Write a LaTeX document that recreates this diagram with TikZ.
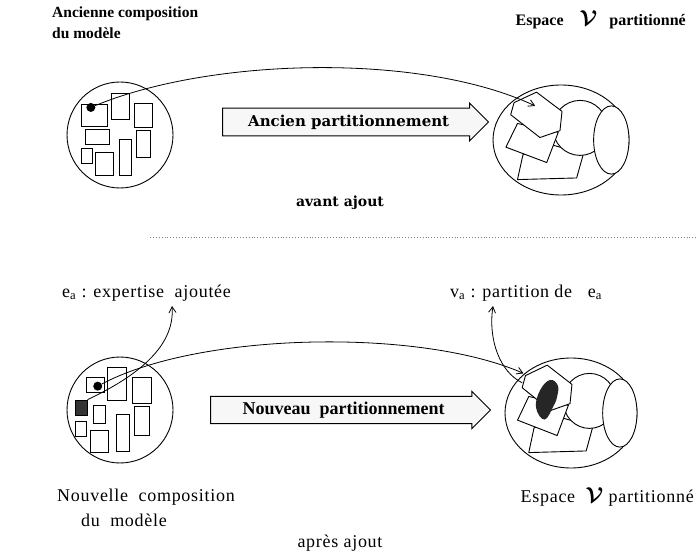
\documentclass[tikz,border=0pt]{standalone}
\usepackage{fontspec}
\setmainfont{Liberation Serif}
\newfontfamily\headfont{DejaVu Serif}
\newfontfamily\widefont{Liberation Serif}[LetterSpace=4]
\usepackage{bm}
\usetikzlibrary{arrows.meta,shapes.arrows}

\newcommand{\bigV}{\scalebox{1.25}{$\bm{\mathcal{V}}$}}

\tikzset{
  outline/.style={line width=0.9pt},
  part/.style={draw, line width=0.9pt, fill=white, line join=round},
  cell/.style={draw, line width=0.8pt},
  bigarrow/.style={single arrow, draw, line width=1pt, fill=gray!6,
    single arrow head extend=5pt, single arrow head indent=0pt,
    inner xsep=6pt, inner ysep=6pt, anchor=west},
  link/.style={line width=0.8pt, -{Straight Barb[length=6pt,width=7pt]}},
  toplab/.style={font=\fontsize{15.5}{21}\selectfont\bfseries},
  heavylab/.style={font=\headfont\bfseries\fontsize{15}{18}\selectfont},
  lab/.style={font=\widefont\fontsize{18}{22}\selectfont},
  arrowlab/.style={font=\fontsize{18}{21}\selectfont\bfseries},
}

% partitioned space: outer ellipse with its overlapping parts
\newcommand{\espaceparts}{%
  \draw[outline] (0,0) circle (1);
  \draw[part] (-0.56,0.27) -- (-0.64,0.72) -- (0.23,0.69) -- (0.33,0.25) -- (-0.1,0.1) -- cycle;
  \draw[part] (0.28,-0.22) ellipse (0.40 and 0.50);
  \draw[part] (0.74,0) ellipse (0.26 and 0.62);
  \draw[part] (-0.64,-0.30) -- (-0.81,0.13) -- (-0.21,0.41) -- (-0.04,-0.14) -- cycle;
  \draw[part] (-0.69,-0.68) -- (-0.36,-0.87) -- (0.015,-0.52) -- (-0.015,-0.17)
              -- (-0.31,-0.045) -- (-0.74,-0.46) -- cycle;
}

\begin{document}
\begin{tikzpicture}[x=1pt,y=-1pt]
\useasboundingbox (0,0) rectangle (697,556);

% ---------- before the addition ----------
\node[toplab, anchor=north west, align=left, inner sep=0pt] (oldcomp) at (52,7) {Ancienne composition\\du modèle};
\node[toplab, font=\fontsize{16}{19}\selectfont\bfseries, anchor=east, inner sep=0pt] (spaceA) at (686,20) {Espace\ \ \ \ \bigV\ \ \ partitionné};

\begin{scope}[shift={(120,135)}, scale=53]
  \draw[outline] (0,0) circle (1);
  \draw[cell] (-0.72,-0.58) rectangle (-0.24,-0.16);
  \draw[cell] (-0.17,-0.78) rectangle (0.18,-0.30);
  \draw[cell] (0.27,-0.60) rectangle (0.62,-0.14);
  \draw[cell] (-0.66,-0.10) rectangle (-0.20,0.18);
  \draw[cell] (-0.72,0.26) rectangle (-0.52,0.54);
  \draw[cell] (-0.46,0.32) rectangle (-0.13,0.76);
  \draw[cell] (-0.01,0.08) rectangle (0.22,0.76);
  \draw[cell] (0.30,-0.08) rectangle (0.58,0.42);
  \node[circle, fill, inner sep=0pt, minimum size=9pt] (olddot) at (-0.55,-0.52) {};
\end{scope}

\node[bigarrow, heavylab, minimum height=266pt] (oldpart) at (222,122) {Ancien partitionnement};

\begin{scope}[shift={(561,140)}, xscale=68, yscale=55]
  \espaceparts
  \coordinate (tipA) at (-0.38,-0.62);
\end{scope}

\draw[link] (olddot) .. controls (210,58) and (420,52) .. (tipA);

\node[heavylab, font=\headfont\bfseries\fontsize{14}{17}\selectfont] (before) at (340,203) {avant ajout};

% separator
\draw[dotted, gray, line width=0.9pt] (150,237) -- (697,237);

% ---------- after the addition ----------
\node[lab, anchor=west, inner sep=0pt] (ea) at (62,293) {e\textsubscript{a} : expertise\ \ ajoutée};
\node[lab, anchor=west, inner sep=0pt] (va) at (450,293) {v\textsubscript{a} : partition de\ \ \ e\textsubscript{a}};

\begin{scope}[shift={(120,410)}, scale=53]
  \draw[outline] (0,0) circle (1);
  \draw[cell] (-0.63,-0.62) rectangle (-0.29,-0.34);
  \draw[cell] (-0.24,-0.80) rectangle (0.12,-0.19);
  \draw[cell] (0.23,-0.62) rectangle (0.59,-0.13);
  \draw[cell] (-0.50,-0.09) rectangle (-0.27,0.26);
  \draw[cell] (-0.84,0.22) rectangle (-0.64,0.50);
  \draw[cell] (-0.55,0.38) rectangle (-0.21,0.80);
  \draw[cell] (-0.07,0.09) rectangle (0.18,0.78);
  \draw[cell] (0.27,-0.06) rectangle (0.55,0.47);
  \node[draw, fill=black!80, inner sep=0pt, minimum width=12pt, minimum height=15pt] (added) at (-0.73,-0.05) {};
  \node[circle, fill, inner sep=0pt, minimum size=9pt] (newdot) at (-0.42,-0.45) {};
\end{scope}

\node[bigarrow, arrowlab, inner ysep=5pt, minimum height=280pt] (newpart) at (210,410) {Nouveau\ \ partitionnement};

\begin{scope}[shift={(571,413)}, xscale=66, yscale=55]
  \espaceparts
  \fill[black!85] plot[smooth cycle, tension=0.7] coordinates {(-0.32,-0.60) (-0.2,-0.5) (-0.21,-0.3)
      (-0.26,-0.14) (-0.40,0.12) (-0.53,-0.10) (-0.47,-0.41)};
  \coordinate (tipB) at (-0.72,-0.72);
  \coordinate (vaStart) at (-0.74,-0.55);
\end{scope}

\coordinate (eaTip) at (172,306);
\coordinate (vaTip) at (493,306);

\draw[link] (newdot) .. controls (200,332) and (420,328) .. (tipB);
\draw[link] (added.north east) .. controls (140,375) and (175,345) .. (eaTip);
\draw[link] (vaStart) .. controls (500,372) and (488,340) .. (vaTip);

\node[lab] (newcomp) at (146,497) {Nouvelle\ \ composition};
\node[lab] (newcomp2) at (124,520) {du\ \ modèle};
\node[lab, anchor=east, inner sep=0pt] (spaceB) at (694,497) {Espace\ \ \bigV\ partitionné};
\node[lab] (after) at (340,543) {après ajout};
\end{tikzpicture}
\end{document}
